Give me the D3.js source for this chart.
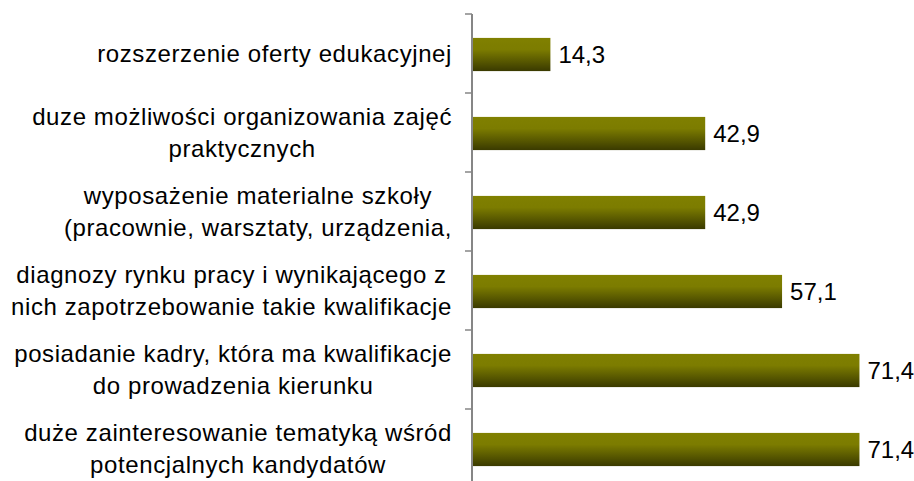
<!DOCTYPE html>
<html>
<head>
<meta charset="utf-8">
<script src="https://cdn.jsdelivr.net/npm/d3@7"></script>
<style>
  html, body { margin: 0; padding: 0; background: #fff; }
  svg { display: block; }
  text { font-family: "Liberation Sans", Arial, sans-serif; fill: #000; }
</style>
</head>
<body>
<div id="chart"></div>
<script>
// Category labels (each entry is the list of lines shown for that row)
const categories = [
  ["rozszerzenie oferty edukacyjnej"],
  ["duze możliwości organizowania zajęć", "praktycznych"],
  ["wyposażenie materialne szkoły", "(pracownie, warsztaty, urządzenia,"],
  ["diagnozy rynku pracy i wynikającego z", "nich zapotrzebowanie takie kwalifikacje"],
  ["posiadanie kadry, która ma kwalifikacje", "do prowadzenia kierunku"],
  ["duże zainteresowanie tematyką wśród", "potencjalnych kandydatów"]
];
const values = [14.3, 42.9, 42.9, 57.1, 71.4, 71.4];
const valueLabels = ["14,3", "42,9", "42,9", "57,1", "71,4", "71,4"];

const W = 914, H = 481;
const fontSize = 24;

const svg = d3.select("#chart").append("svg")
  .attr("width", W).attr("height", H);

const defs = svg.append("defs");
const grad = defs.append("linearGradient")
  .attr("id", "barGrad").attr("x1", 0).attr("y1", 0).attr("x2", 0).attr("y2", 1);
grad.append("stop").attr("offset", "0%").attr("stop-color", "#808000");
grad.append("stop").attr("offset", "35%").attr("stop-color", "#7c7c00");
grad.append("stop").attr("offset", "100%").attr("stop-color", "#3a3a00");

const ids = categories.map((c, i) => i);

const y = d3.scaleBand()
  .domain(ids)
  .range([14, 488])
  .paddingInner(0.58)
  .paddingOuter(0.29);

const x = d3.scaleLinear()
  .domain([0, 80])
  .range([473, 906]);

const gap = y.step() - y.bandwidth();

// Bars
svg.append("g").selectAll("rect")
  .data(values)
  .join("rect")
  .attr("x", x(0))
  .attr("y", (d, i) => y(i) + 1)
  .attr("width", d => x(d) - x(0))
  .attr("height", y.bandwidth())
  .attr("fill", "url(#barGrad)");

// Value labels
svg.append("g").selectAll("text")
  .data(values)
  .join("text")
  .attr("x", d => x(d) + 8)
  .attr("y", (d, i) => y(i) + 1 + y.bandwidth() / 2)
  .attr("dy", "0.36em")
  .attr("font-size", fontSize)
  .text((d, i) => valueLabels[i]);

// Category axis: vertical line with ticks at row boundaries
const axis = svg.append("g");
axis.append("line")
  .attr("x1", x(0) - 1).attr("x2", x(0) - 1)
  .attr("y1", y.range()[0]).attr("y2", y.range()[1])
  .attr("stroke", "#868686").attr("stroke-width", 2);
const bounds = ids.map(i => y(i) - gap / 2).concat([y(ids.length - 1) + y.bandwidth() + gap / 2]);
axis.selectAll("line.tick")
  .data(bounds)
  .join("line")
  .attr("class", "tick")
  .attr("x1", x(0) - 8).attr("x2", x(0) - 1)
  .attr("y1", d => d).attr("y2", d => d)
  .attr("stroke", "#868686").attr("stroke-width", 1.5);

// Category labels: lines centred together, block right-aligned next to the axis
const lineH = 32;
const labelRight = 452;
const lbl = svg.append("g");
categories.forEach((lines, i) => {
  const cy = y(i) + y.bandwidth() / 2;
  const g = lbl.append("g");
  const t = g.selectAll("text")
    .data(lines)
    .join("text")
    .attr("font-size", fontSize)
    .attr("letter-spacing", 0.6)
    .attr("text-anchor", "middle")
    .attr("y", (d, k) => cy + (k - (lines.length - 1) / 2) * lineH)
    .attr("dy", "0.36em")
    .text(d => d);
  const maxW = d3.max(t.nodes(), n => n.getComputedTextLength());
  t.attr("x", labelRight - maxW / 2);
});
</script>
</body>
</html>
